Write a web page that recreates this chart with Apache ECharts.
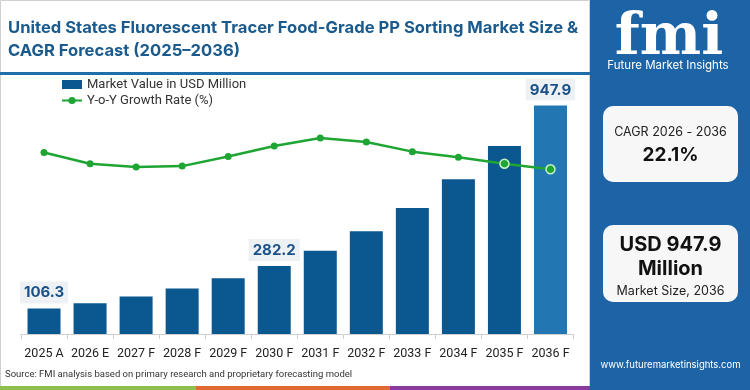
<!DOCTYPE html>
<html><head><meta charset="utf-8">
<script src="https://cdn.jsdelivr.net/npm/echarts@6/dist/echarts.min.js"></script>
<style>html,body{margin:0;padding:0;background:#fff}#c{width:750px;height:390px}</style>
</head><body><div id="c"></div>
<script>
const categories = ['2025 A','2026 E','2027 F','2028 F','2029 F','2030 F','2031 F','2032 F','2033 F','2034 F','2035 F','2036 F'];
const marketValue = [106.3, 128, 156, 189, 231, 282.2, 345, 426, 523, 642, 780, 947.9];
const growthRate = [22.6, 21.2, 20.8, 20.9, 22.1, 23.4, 24.4, 23.9, 22.7, 22.0, 21.2, 20.5];
const labeledIdx = [0, 5, 11];
const titleLines = ['United States Fluorescent Tracer Food-Grade PP Sorting Market Size &', 'CAGR Forecast (2025\u20132036)'];
const cagrLabel = 'CAGR 2026 - 2036';
const cagrValue = '22.1%';
const sizeValue = ['USD 947.9', 'Million'];
const sizeLabel = 'Market Size, 2036';
const sourceText = 'Source: FMI analysis based on primary research and proprietary forecasting model';

const F = 'Inter, "Noto Sans", sans-serif';
const chart = echarts.init(document.getElementById('c'), null, {renderer:'canvas'});
const barData = marketValue.map((v,i)=>({
  value:v,
  itemStyle:{color: i===marketValue.length-1 ? '#2276b2' : '#0b5891'},
  label: labeledIdx.includes(i) ? {show:true} : {show:false}
}));
const lineData = growthRate.map((v,i)=> i>=10 ? {value:v, symbolSize:9, itemStyle:{color:'#1fa533', borderColor:'#c8f0c8', borderWidth:1.5}} : v);
chart.setOption({
  animation:false,
  textStyle:{fontFamily:F},
  grid:{left:21, right:176.5, top:93, bottom:56, containLabel:false},
  legend:{
    orient:'vertical', left:56, top:73, itemGap:3, itemWidth:20, itemHeight:9,
    textStyle:{fontSize:13, color:'#333', fontFamily:'Roboto, sans-serif'},
    data:[{name:'Market Value in USD Million', icon:'rect'}, {name:'Y-o-Y Growth Rate (%)'}]
  },
  xAxis:{type:'category', data:categories,
    axisLine:{lineStyle:{color:'#cfcfcf'}},
    axisTick:{show:true, lineStyle:{color:'#cfcfcf'}},
    axisLabel:{color:'#222', fontSize:12.5, margin:13, interval:0, fontFamily:'Roboto, sans-serif'}},
  yAxis:[{type:'value', min:0, max:1000, show:false, splitLine:{show:false}},
         {type:'value', min:0, max:30, show:false, splitLine:{show:false}}],
  series:[
    {name:'Market Value in USD Million', type:'bar', data:barData, barWidth:33,
     itemStyle:{color:'#0b5891'},
     label:{position:'top', distance:5, color:'#1b5187', fontWeight:'bold', fontSize:15,
       backgroundColor:'#eef1f4', padding:[4,4,3,4], fontFamily:F, formatter:p=>p.value.toFixed(1)}},
    {name:'Y-o-Y Growth Rate (%)', type:'line', yAxisIndex:1, data:lineData,
     symbol:'circle', symbolSize:7, smooth:false,
     lineStyle:{color:'#1fa533', width:2.5}, itemStyle:{color:'#1fa533'}}
  ],
  graphic:[
    {type:'rect', shape:{x:0.5,y:0.5,width:589,height:389}, style:{fill:'none', stroke:'#d0d0d0', lineWidth:1}, z:-1},
    {type:'text', x:8, y:28, style:{text:titleLines[0], fontSize:16.6, fontWeight:'bold', fill:'#1a5a8c', verticalAlign:'middle', fontFamily:F}},
    {type:'text', x:8, y:51, style:{text:titleLines[1], fontSize:16.6, fontWeight:'bold', fill:'#1a5a8c', verticalAlign:'middle', fontFamily:F}},
    {type:'rect', shape:{x:0,y:72,width:590,height:3}, style:{fill:'#1f6ea8'}},
    {type:'text', x:5, y:375, style:{text:sourceText, fontSize:9.5, fill:'#333', verticalAlign:'middle', fontFamily:'Roboto, sans-serif'}},
    {type:'rect', shape:{x:0,y:386,width:196,height:4}, style:{fill:'#8cbf4e'}},
    {type:'rect', shape:{x:196,y:386,width:194,height:4}, style:{fill:'#e06a32'}},
    {type:'rect', shape:{x:390,y:386,width:200,height:4}, style:{fill:'#8a3a9a'}},
    {type:'rect', shape:{x:590,y:0,width:160,height:390}, style:{fill:'#1d64a6'}},
    {type:'text', x:669, y:39, style:{text:'fmi', fontSize:58, fontWeight:'bold', fill:'#ffffff', align:'center', verticalAlign:'middle', fontFamily:'"DejaVu Serif", serif'}},
    {type:'text', x:668, y:66, style:{text:'Future Market Insights', fontSize:11.5, fill:'#ffffff', align:'center', verticalAlign:'middle', fontFamily:F}},
    {type:'rect', shape:{x:603,y:106,width:135,height:76, r:[10,10,10,10]}, style:{fill:'#f7f7f7'}},
    {type:'text', x:670.5, y:132, style:{text:cagrLabel, fontSize:12.5, fill:'#222', align:'center', verticalAlign:'middle', fontFamily:F}},
    {type:'text', x:670.5, y:155, style:{text:cagrValue, fontSize:19, fontWeight:'bold', fill:'#111', align:'center', verticalAlign:'middle', fontFamily:F}},
    {type:'rect', shape:{x:603,y:225,width:135,height:77, r:[10,10,10,10]}, style:{fill:'#f7f7f7'}},
    {type:'text', x:670.5, y:245, style:{text:sizeValue[0], fontSize:20, fontWeight:'bold', fill:'#111', align:'center', verticalAlign:'middle', fontFamily:F}},
    {type:'text', x:670.5, y:269, style:{text:sizeValue[1], fontSize:20, fontWeight:'bold', fill:'#111', align:'center', verticalAlign:'middle', fontFamily:F}},
    {type:'text', x:670.5, y:291, style:{text:sizeLabel, fontSize:12.5, fill:'#222', align:'center', verticalAlign:'middle', fontFamily:F}},
    {type:'text', x:670.5, y:365, style:{text:'www.futuremarketinsights.com', fontSize:9.5, fill:'#ffffff', align:'center', verticalAlign:'middle', fontFamily:F}}
  ]
});
</script></body></html>
